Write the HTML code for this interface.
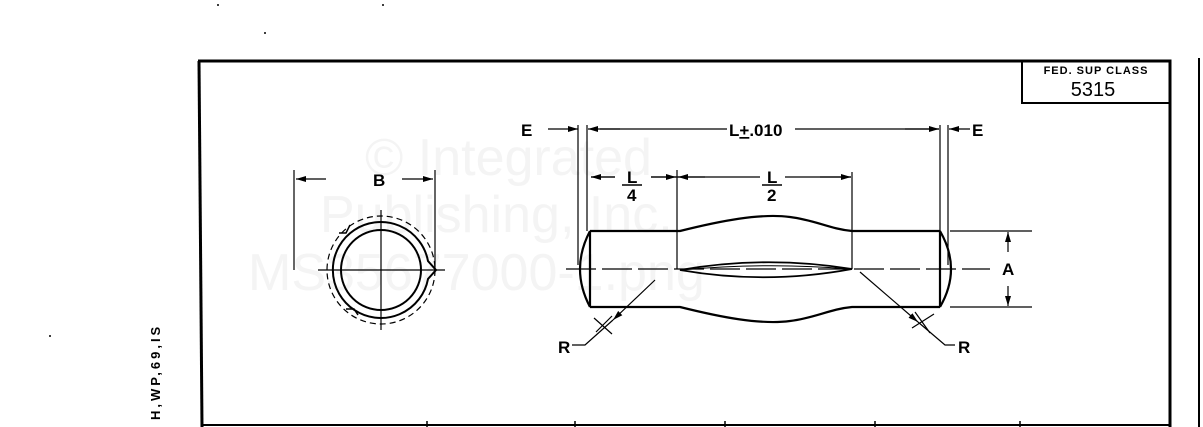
<!DOCTYPE html>
<html><head><style>
html,body{margin:0;padding:0;background:#fff;width:1203px;height:427px;overflow:hidden}
svg{display:block}
text{font-family:"Liberation Sans",sans-serif;font-weight:bold;fill:#000}
</style></head><body>
<svg width="1203" height="427" viewBox="0 0 1203 427" xmlns="http://www.w3.org/2000/svg">
<defs>
<marker id="ar" viewBox="0 0 10 6" refX="10" refY="3" markerWidth="10" markerHeight="6" orient="auto-start-reverse" markerUnits="userSpaceOnUse"><path d="M0,0L10,3L0,6z" fill="#000"/></marker>
</defs>
<!-- watermark -->
<g font-size="52">
<text x="365" y="175" style="fill:#f4f4f4;font-weight:normal">© Integrated</text>
<text x="320" y="232" style="fill:#f4f4f4;font-weight:normal">Publishing, Inc.</text>
<text x="248" y="290" style="fill:#f4f4f4;font-weight:normal">MS35677000-1.png</text>
</g>
<!-- frame -->
<g stroke="#000" fill="none">
<path d="M198,61 H1170 V427" stroke-width="3"/>
<path d="M199,61 L202,427" stroke-width="3"/>
<path d="M202,425 H1170" stroke-width="2"/>
<path d="M427,421V427M575,421V427M725,421V427M875,421V427M1020,421V427" stroke-width="1.5"/>
<rect x="1022" y="61" width="148" height="42" stroke-width="2"/>
<path d="M1199,58V427" stroke-width="2"/>
</g>
<text x="1096" y="74" font-size="11" text-anchor="middle" letter-spacing="1">FED. SUP CLASS</text>
<text x="1093" y="96" font-size="20" text-anchor="middle" style="font-weight:normal">5315</text>
<text transform="translate(160,420) rotate(-90)" font-size="13" letter-spacing="3">H,WP,69,IS</text>

<!-- end view -->
<g stroke="#000" fill="none" stroke-width="2">
<circle cx="381" cy="270" r="40"/>
<path d="M428,261 A48,48 0 1 0 428,279 L436,270 Z" />
<path d="M350,225 l-4,8 h-7 M358,315 l-4,-6 h-8" stroke-width="1.5"/>
<circle cx="381" cy="270" r="54" stroke-dasharray="6,4" stroke-width="1.2"/>
<path d="M318,270H445M381,210V330" stroke-width="1.2"/>
<path d="M294,170V270M435,170V270" stroke-width="1.2"/>
<path d="M326,179H296" stroke-width="1.2" marker-end="url(#ar)"/>
<path d="M402,179H433" stroke-width="1.2" marker-end="url(#ar)"/>
</g>
<text x="373" y="186" font-size="17">B</text>

<!-- pin -->
<g stroke="#000" fill="none" stroke-width="2.2">
<path d="M590,231H680C720,221 760,213 790,217C815,220 830,229 852,231H940"/>
<path d="M590,307H680C720,317 760,325 790,321C815,318 830,309 852,307H940"/>
<path d="M590,231V307M940,231V307"/>
<path d="M590,231Q570,269 590,307M940,231Q962,269 940,307"/>
<path d="M680,270Q766,255 852,269Q766,285 680,270z" stroke-width="1.8"/>
<path d="M682,270Q766,262 850,269" stroke-width="1"/>
</g>
<g stroke="#000" fill="none" stroke-width="1.2">
<path d="M566,269H990" stroke-dasharray="30,6"/>
<path d="M578,125V265M587,125V231M940,125V231M948,125V265"/>
<path d="M677,170V269M852,172V269"/>
<path d="M548,129H578" marker-end="url(#ar)"/>
<path d="M620,129H588" marker-end="url(#ar)"/>
<path d="M600,129H727M795,129H939" />
<path d="M905,129H939" marker-end="url(#ar)"/>
<path d="M970,129H949" marker-end="url(#ar)"/>
<path d="M615,177H591" marker-end="url(#ar)"/>
<path d="M651,177H676" marker-end="url(#ar)"/>
<path d="M591,177H615M651,177H760M785,177H851"/>
<path d="M705,177H678" marker-end="url(#ar)"/>
<path d="M820,177H851" marker-end="url(#ar)"/>
<path d="M950,231H1032M950,307H1032"/>
<path d="M1008,252V232" marker-end="url(#ar)"/>
<path d="M1008,286V306" marker-end="url(#ar)"/>
<!-- R leaders -->
<path d="M655,280L613,320" marker-end="url(#ar)"/>
<path d="M613,320L585,345H572"/>
<path d="M594,318L612,334M612,316L596,332"/>
<path d="M860,272L918,322" marker-end="url(#ar)"/>
<path d="M918,322L945,345H955"/>
<path d="M912,328L934,314M915,312L930,333"/>
</g>
<g font-size="17">
<text x="521" y="136">E</text>
<text x="972" y="136">E</text>
<text x="729" y="136">L<tspan text-decoration="underline">+</tspan>.010</text>
<text x="627" y="183">L</text>
<text x="627" y="201">4</text>
<text x="767" y="183">L</text>
<text x="767" y="201">2</text>
<text x="1002" y="275">A</text>
<text x="558" y="353">R</text>
<text x="958" y="353">R</text>
</g>
<path d="M622,185H642M762,185H782" stroke="#000" stroke-width="1.5"/>
<circle cx="218" cy="5" r="1" fill="#000"/>
<circle cx="383" cy="5" r="1" fill="#000"/>
<circle cx="265" cy="33" r="1" fill="#000"/>
<circle cx="50" cy="336" r="1" fill="#000"/>
</svg>
</body></html>
